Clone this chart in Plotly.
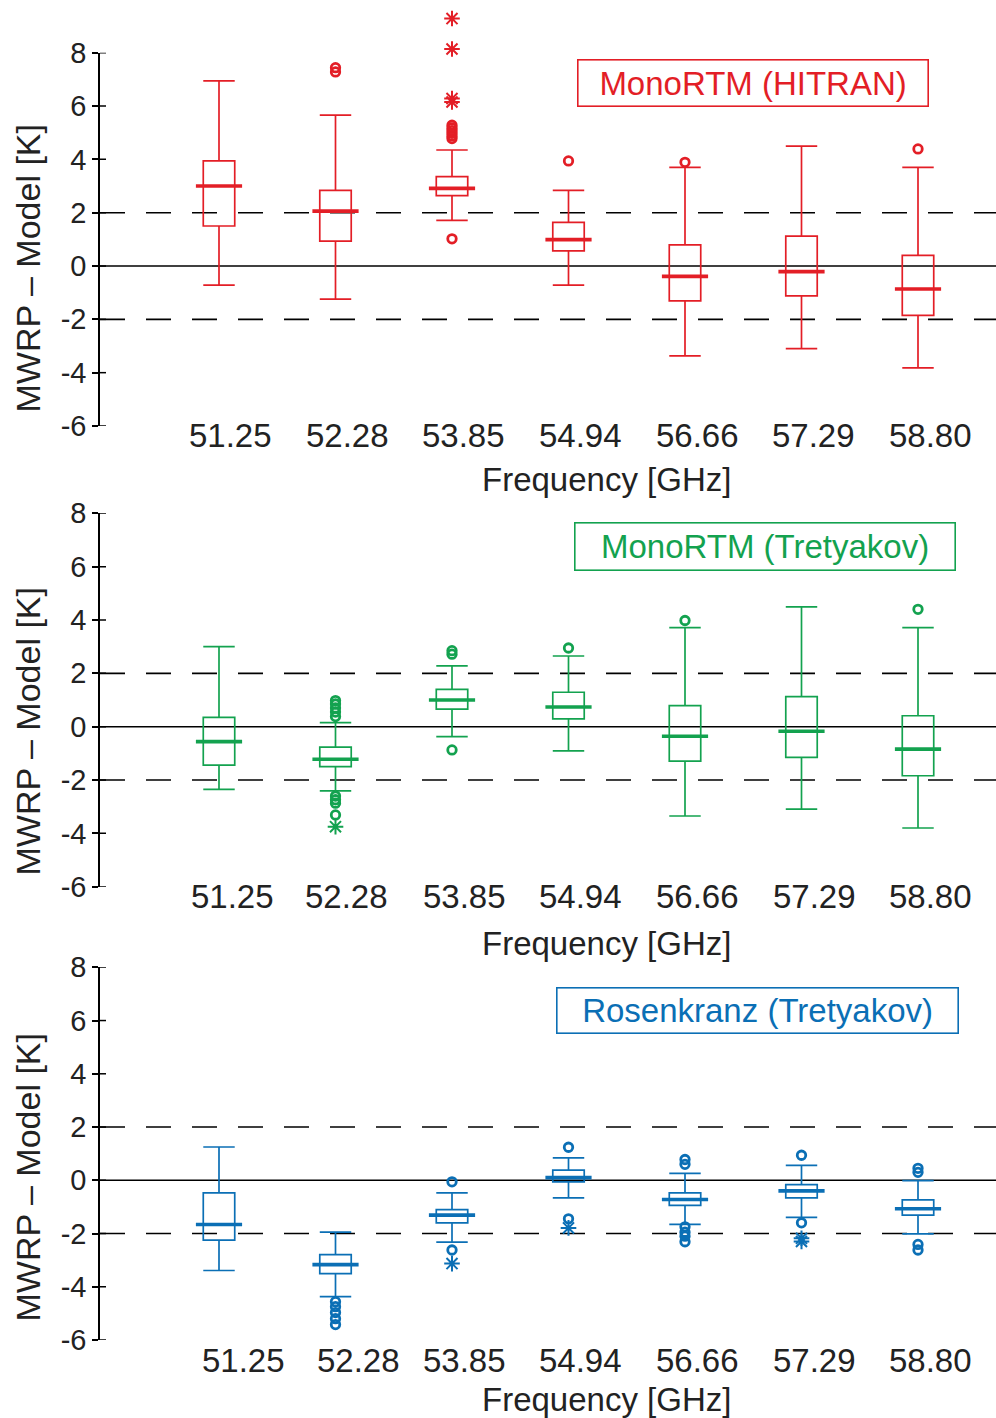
import plotly.graph_objects as go

# ---------------- data ----------------
freq_labels = ["51.25", "52.28", "53.85", "54.94", "56.66", "57.29", "58.80"]
y_ticks = [-6, -4, -2, 0, 2, 4, 6, 8]
y_tick_text = ["-6", "-4", "-2", "0", "2", "4", "6", "8"]
ref_lines = [-2, 2]

hitran_lower = [-0.72, -1.24, 1.71, -0.72, -3.37, -3.10, -3.82]
hitran_q1 = [1.50, 0.93, 2.64, 0.57, -1.31, -1.12, -1.85]
hitran_median = [3.00, 2.06, 2.91, 0.99, -0.39, -0.21, -0.86]
hitran_q3 = [3.94, 2.84, 3.35, 1.64, 0.79, 1.12, 0.40]
hitran_upper = [6.94, 5.66, 4.35, 2.84, 3.70, 4.50, 3.70]
hitran_circles = [[], [7.28, 7.44], [1.02, 4.78, 4.88, 4.98, 5.08, 5.18, 5.28],
                  [3.94], [3.89], [], [4.39]]
hitran_stars = [[], [], [9.28, 8.14, 6.15, 6.28], [], [], [], []]

mono_tret_lower = [-2.35, -2.41, -0.37, -0.91, -3.35, -3.09, -3.80]
mono_tret_q1 = [-1.44, -1.50, 0.66, 0.29, -1.29, -1.15, -1.84]
mono_tret_median = [-0.56, -1.22, 1.00, 0.74, -0.36, -0.17, -0.84]
mono_tret_q3 = [0.35, -0.77, 1.40, 1.29, 0.79, 1.13, 0.41]
mono_tret_upper = [3.00, 0.15, 2.28, 2.65, 3.71, 4.49, 3.71]
mono_tret_circles = [[], [0.38, 0.55, 0.70, 0.85, 0.98, -2.60, -2.74, -2.87, -3.31],
                     [2.72, 2.85, -0.87], [2.95], [3.98], [], [4.40]]
mono_tret_stars = [[], [-3.75], [], [], [], [], []]

rosen_lower = [-3.39, -4.37, -2.32, -0.66, -1.66, -1.39, -2.01]
rosen_q1 = [-2.25, -3.51, -1.60, -0.06, -0.94, -0.66, -1.31]
rosen_median = [-1.66, -3.17, -1.31, 0.10, -0.72, -0.40, -1.07]
rosen_q3 = [-0.47, -2.79, -1.10, 0.38, -0.47, -0.16, -0.74]
rosen_upper = [1.25, -1.95, -0.47, 0.84, 0.26, 0.56, -0.01]
rosen_circles = [[], [-4.56, -4.75, -4.97, -5.20, -5.42], [-0.06, -2.62], [1.24, -1.45],
                 [0.78, 0.60, -1.75, -1.95, -2.10, -2.31], [0.94, -1.60],
                 [0.45, 0.30, -2.41, -2.62]]
rosen_stars = [[], [], [-3.13], [-1.79], [], [-2.18, -2.30], []]

# ---------------- layout helpers ----------------
W, H = 996, 1418
FONT = "Liberation Sans, Arial, sans-serif"
Y_MIN, Y_MAX = -6, 8


def px(p):
    return p / W


def py(p):
    return 1 - p / H


panels = [
    dict(name="MonoRTM (HITRAN)", color="#e31e26",
         stats=(hitran_lower, hitran_q1, hitran_median, hitran_q3, hitran_upper),
         circles=hitran_circles, stars=hitran_stars,
         top=52.7, bottom=426.0, label_y=435, label_shift=[11, 12, 11, 12, 12, 12, 12],
         xtitle_y=479, ytitle_y=269,
         legend=dict(cx=752.5, cy=83.5, w=349, h=45)),
    dict(name="MonoRTM (Tretyakov)", color="#13a24f",
         stats=(mono_tret_lower, mono_tret_q1, mono_tret_median, mono_tret_q3, mono_tret_upper),
         circles=mono_tret_circles, stars=mono_tret_stars,
         top=513.3, bottom=886.7, label_y=896, label_shift=[13, 11, 12, 12, 12, 13, 12],
         xtitle_y=943, ytitle_y=732,
         legend=dict(cx=764.5, cy=547, w=379, h=46)),
    dict(name="Rosenkranz (Tretyakov)", color="#0b6fb5",
         stats=(rosen_lower, rosen_q1, rosen_median, rosen_q3, rosen_upper),
         circles=rosen_circles, stars=rosen_stars,
         top=967.3, bottom=1340.0, label_y=1360, label_shift=[24, 23, 12, 12, 12, 13, 12],
         xtitle_y=1399, ytitle_y=1178,
         legend=dict(cx=757, cy=1010, w=400, h=44)),
]

AXIS_X = 100.0
PX_PER_CAT = 116.5
FIRST_CAT_PX = 219.0
x_min = -(FIRST_CAT_PX - AXIS_X) / PX_PER_CAT
x_max = x_min + (W - AXIS_X) / PX_PER_CAT

fig = go.Figure()
shapes = []
annotations = []
cats = list(range(len(freq_labels)))

for k, p in enumerate(panels):
    n = "" if k == 0 else str(k + 1)
    xa, ya = "x" + n, "y" + n
    col = p["color"]
    lo, q1, med, q3, up = p["stats"]

    # invisible companion y axis with the same scale, extended to the page top for
    # the first panel, so that outliers above the plotted range are still drawn
    ext_n = str(k + 4)
    ya_ext = "y" + ext_n
    px_per_unit = (p["bottom"] - p["top"]) / (Y_MAX - Y_MIN)
    ext_top = Y_MAX + (p["top"] / px_per_unit if k == 0 else 0)
    ext_domain_top = 1.0 if k == 0 else py(p["top"])

    fig.add_trace(go.Box(
        x=cats, lowerfence=lo, q1=q1, median=med, q3=q3, upperfence=up,
        width=0.27, whiskerwidth=1, boxpoints=False,
        line=dict(color=col, width=1.7), fillcolor="rgba(0,0,0,0)",
        xaxis=xa, yaxis=ya, showlegend=False, hoverinfo="skip"))

    # thick median bars
    fig.add_trace(go.Scatter(
        x=cats, y=med, mode="markers",
        marker=dict(symbol="line-ew", size=33, color=col, line=dict(color=col, width=3.6)),
        xaxis=xa, yaxis=ya, showlegend=False, hoverinfo="skip"))

    cx, cy = [], []
    for i, vals in enumerate(p["circles"]):
        for v in vals:
            cx.append(i)
            cy.append(v)
    fig.add_trace(go.Scatter(
        x=cx, y=cy, mode="markers",
        marker=dict(symbol="circle-open", size=8.5, color=col, line=dict(color=col, width=2.8)),
        xaxis=xa, yaxis=ya_ext, showlegend=False, hoverinfo="skip"))

    sx, sy = [], []
    for i, vals in enumerate(p["stars"]):
        for v in vals:
            sx.append(i)
            sy.append(v)
    fig.add_trace(go.Scatter(
        x=sx, y=sy, mode="markers",
        marker=dict(symbol="asterisk-open", size=13, color=col, line=dict(color=col, width=2)),
        xaxis=xa, yaxis=ya_ext, showlegend=False, hoverinfo="skip"))

    ydom = [py(p["bottom"]), py(p["top"])]
    fig.update_layout(**{
        ("xaxis" + n): dict(domain=[px(AXIS_X), 1.0], range=[x_min, x_max],
                            showline=False, showgrid=False, zeroline=False,
                            showticklabels=False, ticks="", anchor=ya, automargin=False),
        ("yaxis" + n): dict(domain=ydom, range=[Y_MIN, Y_MAX], anchor=xa, automargin=False,
                            showline=True, linecolor="black", linewidth=1.5,
                            showgrid=False, zeroline=False,
                            ticks="outside", ticklen=6, tickwidth=1.5, tickcolor="black",
                            tickvals=y_ticks, ticktext=y_tick_text,
                            tickfont=dict(family=FONT, size=29, color="#222")),
        ("yaxis" + ext_n): dict(domain=[ydom[0], ext_domain_top], range=[Y_MIN, ext_top],
                                anchor=xa, visible=False, automargin=False,
                                showgrid=False, zeroline=False),
    })

    # inner halves of the ticks
    for t in y_ticks:
        shapes.append(dict(type="line", xref=xa + " domain", yref=ya,
                           xsizemode="pixel", xanchor=0, x0=0, x1=6, y0=t, y1=t,
                           line=dict(color="black", width=1.5)))
    # zero line and dashed +/-2 lines
    shapes.append(dict(type="line", xref=xa + " domain", yref=ya, x0=0, x1=1, y0=0, y1=0,
                       line=dict(color="black", width=1.5), layer="below"))
    for r in ref_lines:
        shapes.append(dict(type="line", xref=xa + " domain", yref=ya, x0=0, x1=1, y0=r, y1=r,
                           line=dict(color="black", width=1.6, dash="25px,21px"), layer="below"))

    # category labels
    for i, lab in enumerate(freq_labels):
        annotations.append(dict(text=lab, x=i, xref=xa, y=py(p["label_y"]), yref="paper",
                                xshift=p["label_shift"][i], showarrow=False,
                                xanchor="center", yanchor="middle",
                                font=dict(family=FONT, size=33, color="#222")))
    # axis titles
    annotations.append(dict(text="Frequency [GHz]", x=px(606), y=py(p["xtitle_y"]),
                            xref="paper", yref="paper", showarrow=False,
                            xanchor="center", yanchor="middle",
                            font=dict(family=FONT, size=33, color="#222")))
    annotations.append(dict(text="MWRP \u2013 Model [K]", x=px(27.5), y=py(p["ytitle_y"]),
                            xref="paper", yref="paper", showarrow=False, textangle=-90,
                            xanchor="center", yanchor="middle",
                            font=dict(family=FONT, size=34, color="#222")))
    # boxed legend label
    lg = p["legend"]
    annotations.append(dict(text=p["name"], x=px(lg["cx"]), y=py(lg["cy"]),
                            xref="paper", yref="paper", showarrow=False,
                            xanchor="center", yanchor="middle",
                            width=lg["w"], height=lg["h"], borderpad=0,
                            bordercolor=col, borderwidth=1.6, bgcolor="white",
                            font=dict(family=FONT, size=33, color=col)))

fig.update_layout(
    width=W, height=H,
    margin=dict(l=0, r=0, t=0, b=0, autoexpand=False),
    paper_bgcolor="white", plot_bgcolor="rgba(0,0,0,0)",
    shapes=shapes, annotations=annotations,
    showlegend=False,
)

fig.write_html("out.html")
